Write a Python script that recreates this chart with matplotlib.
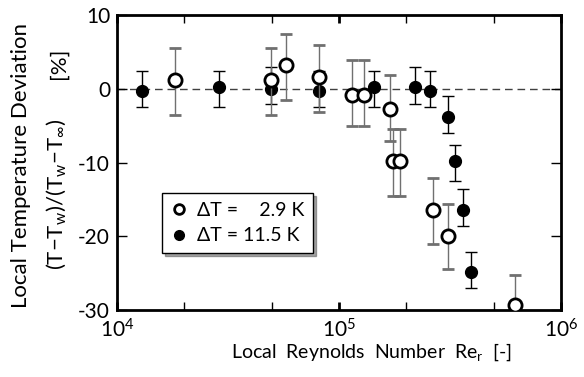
import matplotlib
matplotlib.use("Agg")
import matplotlib.pyplot as plt
from matplotlib.lines import Line2D
from matplotlib.ticker import LogLocator, NullFormatter, FixedLocator

plt.rcParams['font.family'] = ['Lato', 'DejaVu Sans']
plt.rcParams['mathtext.fontset'] = 'custom'
plt.rcParams['mathtext.rm'] = 'Lato'
plt.rcParams['mathtext.it'] = 'Lato'
plt.rcParams['axes.unicode_minus'] = False

# dT = 2.9 K (open circles)
re_open = [1.82e4, 4.94e4, 5.76e4, 8.13e4, 1.14e5, 1.29e5, 1.69e5, 1.76e5, 1.88e5, 2.66e5, 3.10e5, 6.21e5]
dev_open = [1.2, 1.2, 3.2, 1.6, -0.85, -0.85, -2.8, -9.8, -9.8, -16.4, -19.9, -29.3]
err_open_lo = [4.8, 4.8, 4.7, 4.7, 4.2, 4.2, 4.3, 4.8, 4.8, 4.7, 4.6, 4.5]
err_open_hi = [4.3, 4.3, 4.2, 4.3, 4.7, 4.7, 4.7, 4.3, 4.3, 4.3, 4.3, 4.1]

# dT = 11.5 K (filled circles)
re_fill = [1.29e4, 2.89e4, 4.94e4, 8.13e4, 1.44e5, 2.21e5, 2.56e5, 3.10e5, 3.34e5, 3.63e5, 3.92e5]
dev_fill = [-0.26, 0.2, 0.0, -0.26, 0.2, 0.2, -0.26, -3.8, -9.8, -16.4, -24.8]
err_fill_lo = [2.25, 2.7, 2.0, 2.25, 2.7, 2.2, 2.25, 2.2, 2.7, 2.25, 2.25]
err_fill_hi = [2.65, 2.2, 2.9, 2.65, 2.2, 2.7, 2.65, 2.75, 2.2, 2.75, 2.7]

labels = ['ΔT =  \u20072.9 K', 'ΔT = 11.5 K']

fig = plt.figure(figsize=(5.84, 3.77), dpi=100)
ax = fig.add_axes([0.2003, 0.1777, 0.7603, 0.7825])

ax.axhline(0, color='#404040', lw=1.0, ls=(0, (5.5, 3.5)), zorder=1)

ax.errorbar(re_fill, dev_fill, yerr=[err_fill_lo, err_fill_hi], fmt='o', ms=8.5,
            mfc='black', mec='black', ecolor='black', elinewidth=1.0,
            capsize=4.5, capthick=1.0, zorder=3)
ax.errorbar(re_open, dev_open, yerr=[err_open_lo, err_open_hi], fmt='o', ms=9.5,
            mfc='white', mec='black', mew=2.0, ecolor='#707070', elinewidth=1.0,
            capsize=4.5, capthick=1.0, zorder=4)

ax.set_xscale('log')
ax.set_xlim(1e4, 1e6)
ax.set_ylim(-30, 10)
ax.xaxis.set_major_locator(FixedLocator([1e4, 1e5, 1e6]))
ax.xaxis.set_minor_locator(LogLocator(base=10, subs=(2.0, 5.0)))
ax.xaxis.set_minor_formatter(NullFormatter())
ax.set_yticks([-30, -20, -10, 0, 10])
ax.tick_params(which='both', direction='in', top=True, right=True, labelsize=15, color='black')
ax.tick_params(which='major', length=6, width=2.0, pad=6)
ax.tick_params(which='minor', length=6, width=1.0)
ax.tick_params(axis='y', which='major', width=1.0, length=7, pad=5)
for s in ax.spines.values():
    s.set_linewidth(2.0)

ax.set_xlabel('Local  Reynolds  Number  Re$_{r}$  [-]', fontsize=14, labelpad=2)
ax.xaxis.set_label_coords(0.574, -0.105)

fig.text(0.036, 0.56, 'Local Temperature Deviation', rotation=90, fontsize=16,
         ha='center', va='center')
fig.text(0.096, 0.485, '(T\u2212T$_{w}$)/(T$_{w}$\u2212T$_{\u221e}$)', rotation=90, fontsize=16,
         ha='center', va='center')
fig.text(0.101, 0.833, '[%]', rotation=90, fontsize=16, ha='center', va='center')

handles = [Line2D([], [], ls='none', marker='o', ms=7, mfc='white', mec='black', mew=2.0),
           Line2D([], [], ls='none', marker='o', ms=7, mfc='black', mec='black')]
leg = ax.legend(handles, labels, loc='upper left', bbox_to_anchor=(0.101, 0.397),
                fontsize=14, frameon=True, fancybox=False, shadow=True,
                framealpha=1, edgecolor='black', handlelength=0.9,
                handletextpad=0.45, borderpad=0.45, labelspacing=0.45, borderaxespad=0)
leg.get_frame().set_linewidth(1.0)

fig.savefig('out.png', dpi=100)
